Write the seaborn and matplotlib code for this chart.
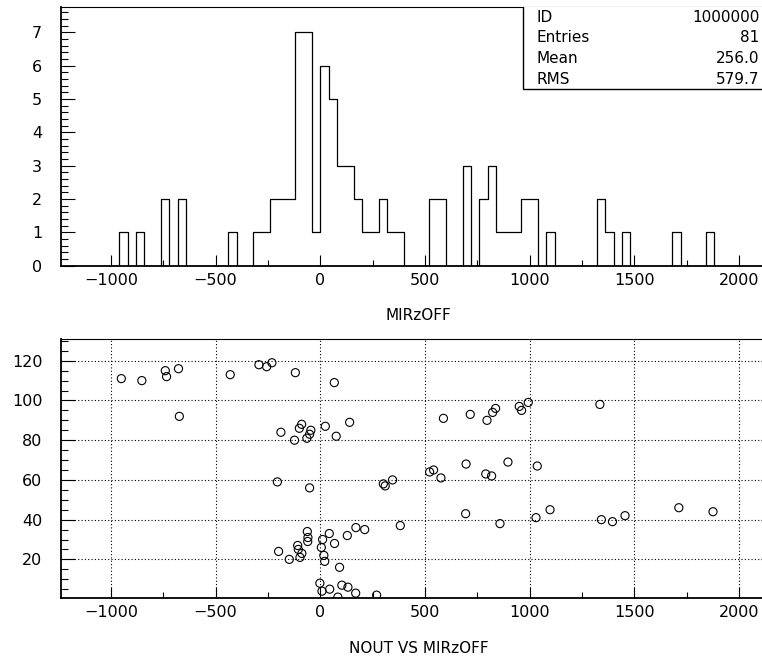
import numpy as np
import matplotlib
matplotlib.use("Agg")
import matplotlib.pyplot as plt
import seaborn as sns
from matplotlib.ticker import MultipleLocator
from matplotlib.patches import Rectangle

# ---- data (81 entries) ----
mirzoff = [
    -950, -852, -740, -734, -677, -673, -430, -293, -256, -231,
    -119, 67, -89, -100, -45, -51, -64, -188, -123, 24,
    140, 76, -205, -51, 301, 310, 345, 382, 170, 212,
    129, 43, -62, -59, -60, 11, 68, -108, -105, -88,
    -97, -199, -148, 5, 17, 21, 92, -2, 8, 45,
    103, 132, 84, 169, 269, 588, 716, 796, 823, 837,
    950, 961, 993, 1335, 522, 541, 576, 696, 896, 790,
    818, 1036, 694, 858, 1030, 1097, 1342, 1395, 1455, 1712,
    1875,
]
nout = [
    111, 110, 115, 112, 116, 92, 113, 118, 117, 119,
    114, 109, 88, 86, 85, 83, 81, 84, 80, 87,
    89, 82, 59, 56, 58, 57, 60, 37, 36, 35,
    32, 33, 34, 31, 29, 30, 28, 27, 25, 23,
    21, 24, 20, 26, 22, 19, 16, 8, 4, 5,
    7, 6, 1, 3, 2, 91, 93, 90, 94, 96,
    97, 95, 99, 98, 64, 65, 61, 68, 69, 63,
    62, 67, 43, 38, 41, 45, 40, 39, 42, 46,
    44,
]
stat_names = ["ID", "Entries", "Mean", "RMS"]
stat_values = ["1000000", "81", "256.0", "579.7"]
hist_xlabel = "MIRzOFF"
scatter_xlabel = "NOUT VS MIRzOFF"

sns.set_theme(style="white")
plt.rcParams["font.family"] = ["DejaVu Sans"]
plt.rcParams["axes.unicode_minus"] = True

W, H = 762, 660
fig = plt.figure(figsize=(W / 100, H / 100), dpi=100)
fig.patch.set_facecolor("white")

ax_left = 61
ax_w = 701
ax_h = 259
ax1 = fig.add_axes([ax_left / W, (H - 265.7) / H, ax_w / W, ax_h / H])
ax2 = fig.add_axes([ax_left / W, (H - 598.3) / H, ax_w / W, ax_h / H])

XLIM = (-1238, 2109)

# ---- histogram ----
bins = np.arange(-1240, 2121, 40)
sns.histplot(x=mirzoff, bins=bins, element="step", fill=False,
             color="black", linewidth=0.9, ax=ax1)
ax1.set_xlim(*XLIM)
ax1.set_ylim(0, 7.77)
ax1.set_ylabel("")
ax1.xaxis.set_major_locator(MultipleLocator(500))
ax1.xaxis.set_minor_locator(MultipleLocator(250))
ax1.yaxis.set_major_locator(MultipleLocator(1))
ax1.yaxis.set_minor_locator(MultipleLocator(0.2))

# ---- scatter ----
sns.scatterplot(x=mirzoff, y=nout, marker="o", s=34, facecolor="none",
                edgecolor="black", linewidth=0.8, ax=ax2, zorder=3)
ax2.set_xlim(*XLIM)
ax2.set_ylim(0.4, 130.8)
ax2.xaxis.set_major_locator(MultipleLocator(500))
ax2.xaxis.set_minor_locator(MultipleLocator(250))
ax2.yaxis.set_major_locator(MultipleLocator(20))
ax2.yaxis.set_minor_locator(MultipleLocator(5))
ax2.grid(True, which="major", linestyle=(0, (1, 2)), color="black", linewidth=0.8)
ax2.set_axisbelow(True)

for ax, lab in ((ax1, hist_xlabel), (ax2, scatter_xlabel)):
    ax.set_facecolor("white")
    ax.tick_params(axis="both", which="both", direction="in", colors="black",
                   top=False, right=False, bottom=True, left=True,
                   labelsize=11.5, width=0.8)
    ax.tick_params(axis="x", which="major", length=8, pad=5)
    ax.tick_params(axis="x", which="minor", length=4)
    ax.tick_params(axis="y", which="major", length=10, pad=13.5)
    ax.tick_params(axis="y", which="minor", length=5)
    ax.spines["right"].set_visible(False)
    ax.spines["top"].set_linewidth(0.8)
    ax.spines["left"].set_linewidth(1.3)
    ax.spines["bottom"].set_linewidth(1.3)
    for s in ax.spines.values():
        s.set_color("black")
    ax.set_xlabel(lab, fontsize=11, color="black")
    ax.xaxis.set_label_coords(0.51, -0.192)
    ax.xaxis.label.set_va("center")

# ---- statistics box ----
bx0 = (522.7 - ax_left) / ax_w
by0 = (265.7 - 89.3) / ax_h
ax1.add_patch(Rectangle((bx0, by0), 0.5, 0.5, transform=ax1.transAxes,
                        facecolor="white", edgecolor="black", linewidth=1.0,
                        clip_on=True, zorder=4))
row_y = [17.5, 38.0, 58.5, 79.0]
for name, val, py in zip(stat_names, stat_values, row_y):
    yf = (265.7 - py) / ax_h
    ax1.text((536.7 - ax_left) / ax_w, yf, name, transform=ax1.transAxes,
             ha="left", va="center", fontsize=11, color="black", zorder=5)
    ax1.text((759.3 - ax_left) / ax_w, yf, val, transform=ax1.transAxes,
             ha="right", va="center", fontsize=11, color="black", zorder=5)

fig.savefig("out.png", dpi=100, facecolor="white")
